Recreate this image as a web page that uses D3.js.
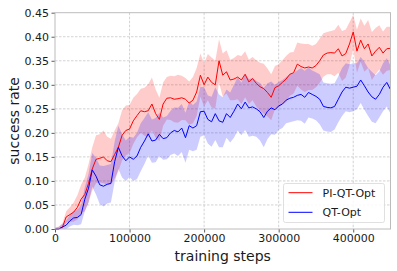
<!DOCTYPE html>
<html><head><meta charset="utf-8">
<script src="https://cdn.jsdelivr.net/npm/d3@7"></script>
<style>body{margin:0;background:#fff;} text{font-family:"DejaVu Sans",sans-serif;}</style>
</head><body>
<svg id="c" width="397" height="271"></svg>
<script>
const stepSize = 5000;
const seriesNames = ["PI-QT-Opt", "QT-Opt"];
const piMean = [0.0,0.0,0.004,0.025,0.03,0.035,0.045,0.062,0.072,0.095,
0.125,0.145,0.147,0.15,0.142,0.14,0.155,0.17,0.195,0.205,
0.208,0.225,0.236,0.246,0.244,0.246,0.26,0.24,0.228,0.26,
0.272,0.273,0.27,0.271,0.273,0.27,0.262,0.268,0.285,0.32,
0.3,0.316,0.305,0.3,0.35,0.32,0.327,0.31,0.312,0.316,
0.31,0.322,0.306,0.313,0.303,0.296,0.292,0.284,0.274,0.294,
0.298,0.305,0.312,0.322,0.325,0.343,0.338,0.335,0.337,0.335,
0.34,0.35,0.362,0.366,0.367,0.366,0.375,0.36,0.365,0.385,
0.41,0.37,0.393,0.375,0.385,0.36,0.37,0.378,0.366,0.375,0.376];
const piSpread = [0.003,0.005,0.008,0.012,0.015,0.02,0.025,0.03,0.035,0.04,
0.045,0.05,0.05,0.055,0.05,0.048,0.05,0.05,0.052,0.052,
0.05,0.048,0.045,0.046,0.05,0.055,0.055,0.05,0.045,0.045,
0.044,0.046,0.048,0.05,0.046,0.044,0.045,0.048,0.05,0.045,
0.045,0.048,0.052,0.05,0.045,0.045,0.045,0.042,0.044,0.046,
0.05,0.048,0.046,0.045,0.048,0.05,0.052,0.05,0.048,0.045,
0.045,0.046,0.048,0.045,0.043,0.045,0.048,0.05,0.048,0.046,
0.045,0.046,0.045,0.044,0.045,0.048,0.05,0.052,0.05,0.045,
0.035,0.045,0.045,0.048,0.05,0.05,0.048,0.046,0.045,0.046,0.045];
const qtMean = [0.0,0.0,0.004,0.008,0.017,0.023,0.024,0.03,0.062,0.085,
0.123,0.11,0.092,0.089,0.093,0.095,0.14,0.17,0.152,0.142,
0.15,0.145,0.152,0.17,0.183,0.198,0.183,0.185,0.197,0.188,
0.19,0.2,0.205,0.202,0.21,0.19,0.215,0.21,0.215,0.244,
0.245,0.228,0.223,0.24,0.225,0.222,0.24,0.232,0.245,0.26,
0.25,0.264,0.252,0.254,0.25,0.244,0.232,0.245,0.252,0.248,
0.256,0.26,0.268,0.272,0.274,0.278,0.28,0.274,0.284,0.28,
0.276,0.27,0.255,0.253,0.252,0.255,0.27,0.285,0.295,0.293,
0.295,0.297,0.31,0.298,0.285,0.275,0.27,0.28,0.295,0.305,0.29];
const qtSpread = [0.002,0.004,0.006,0.01,0.012,0.014,0.016,0.02,0.025,0.03,
0.035,0.038,0.04,0.042,0.04,0.04,0.042,0.045,0.045,0.042,
0.042,0.045,0.048,0.05,0.048,0.045,0.045,0.046,0.045,0.044,
0.045,0.046,0.048,0.05,0.05,0.052,0.05,0.048,0.05,0.052,
0.05,0.05,0.052,0.055,0.055,0.052,0.05,0.052,0.055,0.055,
0.055,0.058,0.06,0.06,0.058,0.06,0.062,0.058,0.055,0.052,
0.05,0.05,0.048,0.05,0.05,0.052,0.055,0.055,0.052,0.05,
0.05,0.052,0.05,0.05,0.05,0.048,0.048,0.05,0.05,0.05,
0.05,0.048,0.048,0.05,0.05,0.052,0.05,0.048,0.05,0.05,0.05];
const xTicks = [0,100000,200000,300000,400000];
const yTicks = [0,0.05,0.1,0.15,0.2,0.25,0.3,0.35,0.4,0.45];

const svg = d3.select("#c");
const m = {l:55, r:390.5, t:12.7, b:229};
const x = d3.scaleLinear().domain([0,450000]).range([m.l,m.r]);
const y = d3.scaleLinear().domain([0,0.45]).range([m.b,m.t]);

const g = svg.append("g");
g.selectAll(".gx").data(xTicks.slice(1)).enter().append("line")
 .attr("x1",d=>x(d)).attr("x2",d=>x(d)).attr("y1",m.t).attr("y2",m.b)
 .attr("stroke","#c8c8c8").attr("stroke-width",0.8).attr("stroke-dasharray","2.5,1.5");
g.selectAll(".gy").data(yTicks.slice(1,-1)).enter().append("line")
 .attr("x1",m.l).attr("x2",m.r).attr("y1",d=>y(d)).attr("y2",d=>y(d))
 .attr("stroke","#c8c8c8").attr("stroke-width",0.8).attr("stroke-dasharray","2.5,1.5");

function draw(mean, spread, fillColor){
  const data = mean.map((v,i)=>({s:i*stepSize, v, lo:Math.max(0,v-spread[i]), hi:v+spread[i]}));
  svg.append("path").datum(data)
    .attr("d", d3.area().x(d=>x(d.s)).y0(d=>y(d.lo)).y1(d=>y(d.hi)))
    .attr("fill", fillColor).attr("fill-opacity",0.2).attr("stroke","none");
  return data;
}
const dPI = draw(piMean, piSpread, "#ff0000");
const dQT = draw(qtMean, qtSpread, "#0000ff");
const line = d3.line().x(d=>x(d.s)).y(d=>y(d.v));
svg.append("path").datum(dPI).attr("d",line).attr("fill","none").attr("stroke","#ff0000").attr("stroke-width",1);
svg.append("path").datum(dQT).attr("d",line).attr("fill","none").attr("stroke","#0000ff").attr("stroke-width",1);

const ax = svg.append("g").attr("transform",`translate(0,${m.b})`)
  .call(d3.axisBottom(x).tickValues(xTicks).tickFormat(d3.format("d")).tickSize(3.5).tickPadding(2));
const ay = svg.append("g").attr("transform",`translate(${m.l},0)`)
  .call(d3.axisLeft(y).tickValues(yTicks).tickFormat(d3.format(".2f")).tickSize(3.5).tickPadding(2.5));
[ax,ay].forEach(a=>{
  a.select(".domain").remove();
  a.selectAll(".tick line").attr("stroke","#333").attr("stroke-width",0.8);
  a.selectAll("text").attr("font-size","11px").attr("fill","#1a1a1a").attr("font-family","DejaVu Sans");
});
svg.append("rect").attr("x",m.l).attr("y",m.t).attr("width",m.r-m.l).attr("height",m.b-m.t)
  .attr("fill","none").attr("stroke","#bcbcbc").attr("stroke-width",1);

svg.append("text").attr("x",(m.l+m.r)/2).attr("y",260.5).attr("text-anchor","middle")
  .attr("font-size","14px").attr("fill","#1a1a1a").text("training steps");
svg.append("text").attr("transform",`translate(19,${(m.t+m.b)/2}) rotate(-90)`).attr("text-anchor","middle")
  .attr("font-size","14px").attr("fill","#1a1a1a").text("success rate");

const lg = svg.append("g");
lg.append("rect").attr("x",283.5).attr("y",183.5).attr("width",101).attr("height",39).attr("rx",2)
  .attr("fill","#fff").attr("fill-opacity",0.85).attr("stroke","#d8d8d8").attr("stroke-width",0.8);
const lcol = ["#ff0000","#0000ff"];
seriesNames.forEach((n,i)=>{
  const yy = 192.7 + i*19.6;
  lg.append("line").attr("x1",288.5).attr("x2",312.5).attr("y1",yy).attr("y2",yy).attr("stroke",lcol[i]).attr("stroke-width",1);
  lg.append("text").attr("x",322.5).attr("y",yy+4).attr("font-size","11px").attr("fill","#1a1a1a").text(n);
});
</script>
</body></html>
